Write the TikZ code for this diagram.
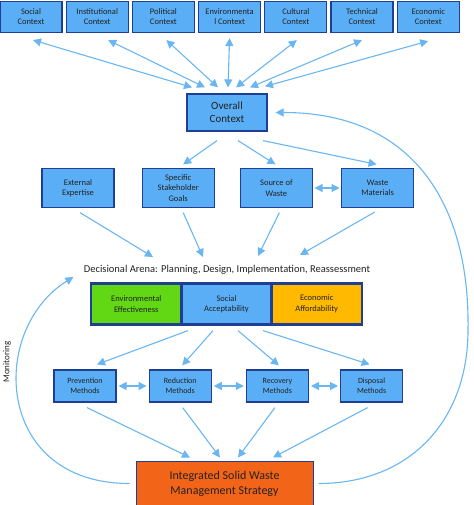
\documentclass[tikz,border=0pt]{standalone}
\usepackage{fontspec}
\setmainfont{Carlito}
\usetikzlibrary{shapes,arrows.meta,positioning,fit,calc}

\definecolor{boxblue}{HTML}{5AAEF5}
\definecolor{navy}{HTML}{1F3F94}
\definecolor{arrowblue}{HTML}{6AB6F2}
\definecolor{envgreen}{HTML}{62D814}
\definecolor{ecoorange}{HTML}{FFBA00}
\definecolor{iswmorange}{HTML}{F26418}
\definecolor{txt}{HTML}{222222}

\begin{document}
\begin{tikzpicture}[
    x=1pt, y=-1pt,
    every node/.style={text=txt},
    ctx/.style={rectangle, draw=navy, line width=1.2pt, fill=boxblue, minimum width=62pt, minimum height=31pt, inner sep=1pt, align=center, font=\fontsize{8.5}{10}\selectfont},
    block/.style={rectangle, draw=navy, line width=1.2pt, fill=boxblue, minimum width=72pt, minimum height=39pt, inner sep=1pt, align=center, font=\fontsize{8.5}{10.5}\selectfont},
    method/.style={rectangle, draw=navy, line width=1.2pt, fill=boxblue, minimum width=62pt, minimum height=32pt, inner sep=1pt, align=center, font=\fontsize{8}{10}\selectfont},
    crit/.style={rectangle, draw=navy, line width=1.2pt, minimum width=89pt, minimum height=40pt, inner sep=1pt, align=center, font=\fontsize{8.5}{10.5}\selectfont},
    line/.style={draw=arrowblue, line width=1.1pt, -{Triangle[length=8pt,width=8pt]}},
    bline/.style={line, {Triangle[length=8pt,width=8pt]}-{Triangle[length=8pt,width=8pt]}}
]
\pgfdeclarelayer{bg}
\pgfsetlayers{bg,main}
\useasboundingbox (0,0) rectangle (473,505);

% ----------------------------
% Nodes
% ----------------------------
\node[ctx] (social) at (31,17) {Social\\Context};
\node[ctx, right=3pt of social] (institutional) {Institutional\\Context};
\node[ctx, right=3pt of institutional] (political) {Political\\Context};
\node[ctx, right=3pt of political] (environ) {Environmenta\\l Context};
\node[ctx, right=3pt of environ] (cultural) {Cultural\\Context};
\node[ctx, right=3pt of cultural] (technical) {Technical\\Context};
\node[ctx, right=3pt of technical] (economic) {Economic\\Context};

\node[ctx, minimum width=80pt, minimum height=37pt, font=\fontsize{11}{13}\selectfont] (overall) at (227,112.5) {Overall\\Context};

\node[block] (expertise) at (78,188) {External\\Expertise};
\node[block, right=27pt of expertise] (goals) {Specific\\Stakeholder\\Goals};
\node[block, right=25pt of goals] (source) {Source of\\Waste};
\node[block, right=28pt of source] (materials) {Waste\\Materials};

\node[font=\fontsize{10.5}{12}\selectfont] (arena) at (227,270) {Decisional Arena: Planning, Design, Implementation, Reassessment};

\node[crit, fill=boxblue] (acceptability) at (226.5,304) {Social\\Acceptability};
\node[crit, fill=envgreen, left=0pt of acceptability] (effectiveness) {Environmental\\Effectiveness};
\node[crit, fill=ecoorange, right=0pt of acceptability] (affordability) {Economic\\Affordability};
\node[fit=(effectiveness)(affordability), draw=navy, line width=2.5pt, inner sep=0pt] (criteria) {};

\node[method] (prevention) at (85,386) {Prevention\\Methods};
\node[method, right=32pt of prevention] (reduction) {Reduction\\Methods};
\node[method, right=34pt of reduction] (recovery) {Recovery\\Methods};
\node[method, right=31pt of recovery] (disposal) {Disposal\\Methods};

\node[rectangle, draw=navy, line width=1pt, fill=iswmorange, minimum width=177pt, minimum height=45pt, align=center, font=\fontsize{12}{15}\selectfont] (iswm) at (224.5,483.5) {Integrated Solid Waste\\Management Strategy};

\node[rotate=90, font=\fontsize{9}{10}\selectfont] (monitoring) at (7,362) {Monitoring};

\coordinate (rbend) at (468,330);

% ----------------------------
% Edges (background layer)
% ----------------------------
\begin{pgfonlayer}{bg}
% contexts <-> overall context
\path[bline] ([xshift=-35pt,yshift=6pt]overall.north) -- ([xshift=2pt,yshift=-7pt]social.south);
\path[bline] ([xshift=-22pt,yshift=6pt]overall.north) -- ([xshift=11pt,yshift=-7pt]institutional.south);
\path[bline] ([xshift=-9pt,yshift=6pt]overall.north) -- ([xshift=3pt,yshift=-7pt]political.south);
\path[bline] ([xshift=1pt,yshift=6pt]overall.north) -- ([xshift=0pt,yshift=-5pt]environ.south);
\path[bline] ([xshift=9pt,yshift=6pt]overall.north) -- ([xshift=1pt,yshift=-7pt]cultural.south);
\path[bline] ([xshift=23pt,yshift=6pt]overall.north) -- ([xshift=0pt,yshift=-7pt]technical.south);
\path[bline] ([xshift=38pt,yshift=7pt]overall.north) -- ([xshift=0pt,yshift=-8pt]economic.south);

% overall context -> second row
\path[line] ([xshift=-10pt,yshift=-9pt]overall.south) -- ([xshift=5pt,yshift=3.5pt]goals.north);
\path[line] ([xshift=11pt,yshift=-9pt]overall.south) -- ([xshift=-1pt,yshift=3.5pt]source.north);
\path[line] ([xshift=36pt,yshift=-9pt]overall.south) -- ([xshift=-1pt,yshift=3.5pt]materials.north);
\path[bline, shorten <=1.5pt, shorten >=1.5pt] (source.east) -- (materials.west);

% second row -> decisional arena
\path[line] ([xshift=2pt,yshift=-4.5pt]expertise.south) -- ([xshift=-74pt,yshift=13pt]arena.center);
\path[line] ([xshift=5pt,yshift=-4.5pt]goals.south) -- ([xshift=-24pt,yshift=13pt]arena.center);
\path[line] ([xshift=3pt,yshift=-4.5pt]source.south) -- ([xshift=31pt,yshift=14pt]arena.center);
\path[line] ([xshift=-3pt,yshift=-4pt]materials.south) -- ([xshift=73pt,yshift=15pt]arena.center);

% criteria -> methods
\path[line] ([xshift=-38.5pt,yshift=-6pt]acceptability.south) -- ([xshift=12pt,yshift=5pt]prevention.north);
\path[line] ([xshift=-13.5pt,yshift=-6pt]acceptability.south) -- ([xshift=2pt,yshift=4pt]reduction.north);
\path[line] ([xshift=11.5pt,yshift=-6pt]acceptability.south) -- ([xshift=1.5pt,yshift=4pt]recovery.north);
\path[line] ([xshift=36.5pt,yshift=-6pt]acceptability.south) -- ([xshift=-2pt,yshift=5pt]disposal.north);

\path[bline, shorten <=2pt, shorten >=2pt] (prevention.east) -- (reduction.west);
\path[bline, shorten <=2pt, shorten >=2pt] (reduction.east) -- (recovery.west);
\path[bline, shorten <=2pt, shorten >=2pt] (recovery.east) -- (disposal.west);

% methods -> strategy
\path[line] ([xshift=2pt,yshift=-5pt]prevention.south) -- ([xshift=-34.5pt,yshift=3pt]iswm.north);
\path[line] ([xshift=2.5pt,yshift=-5pt]reduction.south) -- ([xshift=-4.5pt,yshift=3pt]iswm.north);
\path[line] ([xshift=-2.5pt,yshift=-5pt]recovery.south) -- ([xshift=13.5pt,yshift=3pt]iswm.north);
\path[line] ([xshift=-4pt,yshift=-5pt]disposal.south) -- ([xshift=48.5pt,yshift=3pt]iswm.north);

% monitoring loop back to the arena
\path[line, shorten <=6pt] (iswm.west) .. controls +(-141,0) and +(-85,53) .. ([xshift=-7pt,yshift=-7pt]arena.west);

% feedback to the overall context
\path[line, shorten <=5pt, shorten >=8pt] (iswm.east) .. controls +(97,0) and +(0,90) .. (rbend) .. controls +(2,-120) and +(150,0) .. (overall.east);
\end{pgfonlayer}

\end{tikzpicture}
\end{document}
